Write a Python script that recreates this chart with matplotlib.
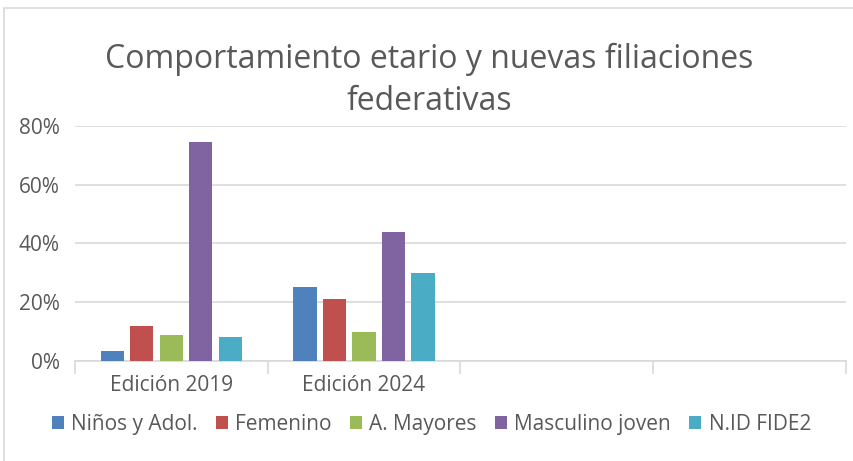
import numpy as np
import matplotlib
matplotlib.use("Agg")
import matplotlib.pyplot as plt
from matplotlib.patches import Rectangle

plt.rcParams['font.family'] = ['Open Sans', 'DejaVu Sans']

categorias = ["Edición 2019", "Edición 2024", "", ""]
series = ["Niños y Adol.", "Femenino", "A. Mayores", "Masculino joven", "N.ID FIDE2"]
ninos = [0.035, 0.25]
femenino = [0.12, 0.21]
mayores = [0.09, 0.10]
masc_joven = [0.743, 0.44]
nid_fide2 = [0.08, 0.30]
colores = ["#4f81bd", "#c0504d", "#9bbb59", "#8064a2", "#4bacc6"]

valores = [ninos, femenino, mayores, masc_joven, nid_fide2]

fig = plt.figure(figsize=(8.54, 4.61), dpi=100)
ax = fig.add_axes([0.0878, 0.2169, 0.9025, 0.5104])

x = np.arange(len(categorias))
ancho = 0.121
paso = 0.153
for i, (nombre, vals, c) in enumerate(zip(series, valores, colores)):
    pos = x[:len(vals)] + (i - 2) * paso
    ax.bar(pos, vals, width=ancho, color=c, label=nombre, zorder=3)

ax.set_xlim(-0.5, len(categorias) - 0.5)
ax.set_ylim(0, 0.8)
ax.set_yticks([0, 0.2, 0.4, 0.6, 0.8])
ax.set_yticklabels(["0%", "20%", "40%", "60%", "80%"])
ax.set_xticks(x)
ax.set_xticklabels(categorias)
ax.set_xticks(np.arange(len(categorias) + 1) - 0.5, minor=True)
ax.tick_params(axis='x', which='major', length=0, pad=10, labelsize=15, labelcolor="#595959")
ax.tick_params(axis='x', which='minor', length=9, width=1.2, color="#d9d9d9")
ax.tick_params(axis='y', length=0, pad=11, labelsize=15, labelcolor="#595959")

ax.grid(axis='y', color="#d9d9d9", linewidth=1.2, zorder=0)
for s in ["top", "right", "left"]:
    ax.spines[s].set_visible(False)
ax.spines["bottom"].set_color("#d9d9d9")
ax.spines["bottom"].set_linewidth(1.2)

fig.text(0.503, 0.826, "Comportamiento etario y nuevas filiaciones\nfederativas",
         ha="center", va="center", fontsize=23, color="#595959", linespacing=1.38)

ax.legend(loc="center", bbox_to_anchor=(0.505, 0.08), bbox_transform=fig.transFigure,
          ncol=5, frameon=False, fontsize=15, labelcolor="#595959",
          handlelength=0.6, handleheight=0.6, handletextpad=0.35, columnspacing=0.85)

fig.patches.append(Rectangle((4 / 854, -0.1), 1.2, 1.1 - 8 / 461, transform=fig.transFigure,
                             fill=False, edgecolor="#d9d9d9", linewidth=1.2))

fig.savefig("out.png", dpi=100)
